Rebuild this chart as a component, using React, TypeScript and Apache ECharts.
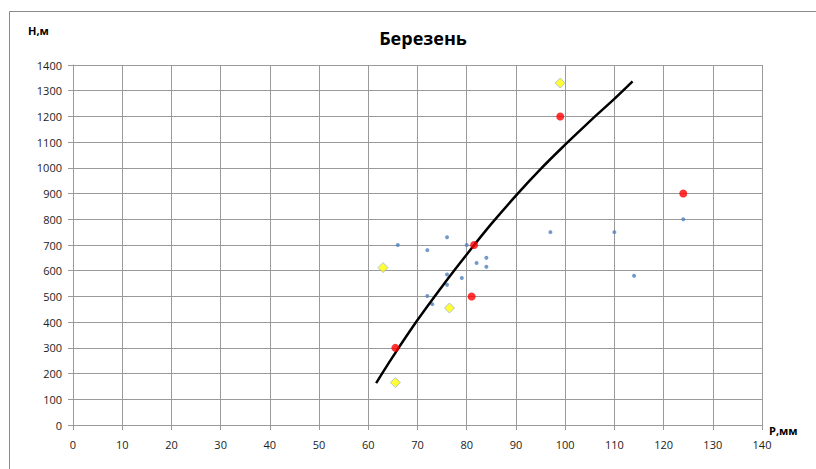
import React, { useEffect, useRef } from "react";
import * as echarts from "echarts";

const titleText = "Березень";
const yAxisName = "Н,м";
const xAxisName = "P,мм";

const blueP = [66, 76, 72, 80, 84, 82, 84, 76, 79, 76, 72, 73, 97, 110, 114, 124];
const blueH = [700, 730, 680, 700, 650, 630, 615, 585, 572, 545, 502, 470, 750, 750, 580, 800];

const redP = [65.5, 81, 81.5, 99, 124];
const redH = [300, 500, 700, 1200, 900];

const yellowP = [63, 76.5, 65.5, 99];
const yellowH = [612, 455, 165, 1330];

const trendP = [61.6, 65, 70, 75, 80, 85, 90, 95, 100, 105, 110, 113.7];
const trendH = [163, 266, 408, 539, 663, 782, 892, 995, 1090, 1181, 1268, 1336];

const zip = (a: number[], b: number[]) => a.map((v, i) => [v, b[i]]);

export default function App() {
  const ref = useRef<HTMLDivElement>(null);
  useEffect(() => {
    if (!ref.current) return;
    const chart = echarts.init(ref.current, null, { renderer: "svg" });
    const font = "'Open Sans', 'Noto Sans', sans-serif";
    const gridColor = "#9a9a9a";
    chart.setOption({
      animation: false,
      backgroundColor: "#ffffff",
      textStyle: { fontFamily: font },
      title: {
        text: titleText,
        left: 418,
        top: 24,
        textAlign: "center",
        textStyle: { fontFamily: font, fontSize: 18, fontWeight: "bold", color: "#000" },
      },
      graphic: [
        {
          type: "rect",
          shape: { x: 9.5, y: 11.5, width: 820, height: 470 },
          style: { fill: "none", stroke: "#8a8a8a", lineWidth: 1 },
          silent: true,
        },
        {
          type: "text",
          left: 28,
          top: 25,
          style: { text: yAxisName, fontFamily: font, fontSize: 11, fontWeight: "bold", fill: "#000" },
        },
        {
          type: "text",
          left: 769,
          top: 425,
          style: { text: xAxisName, fontFamily: font, fontSize: 11, fontWeight: "bold", fill: "#000" },
        },
      ],
      grid: { left: 73, right: 54, top: 65, bottom: 44, containLabel: false },
      xAxis: {
        type: "value",
        min: 0,
        max: 140,
        interval: 10,
        axisLine: { show: true, onZero: false, lineStyle: { color: gridColor } },
        axisTick: { show: true, length: 5, lineStyle: { color: gridColor } },
        axisLabel: { color: "#222", fontSize: 11, margin: 14, fontFamily: font },
        splitLine: { show: true, lineStyle: { color: gridColor, width: 1 } },
      },
      yAxis: {
        type: "value",
        min: 0,
        max: 1400,
        interval: 100,
        axisLine: { show: true, onZero: false, lineStyle: { color: gridColor } },
        axisTick: { show: true, length: 5, lineStyle: { color: gridColor } },
        axisLabel: {
          color: "#222",
          fontSize: 11,
          margin: 11,
          fontFamily: font,
          formatter: (v: number) => String(v),
        },
        splitLine: { show: true, lineStyle: { color: gridColor, width: 1 } },
      },
      series: [
        {
          type: "scatter",
          data: zip(blueP, blueH),
          symbol: "circle",
          symbolSize: 4,
          itemStyle: { color: "#4f81bd" },
        },
        {
          type: "line",
          data: zip(trendP, trendH),
          smooth: 0.4,
          showSymbol: false,
          symbol: "none",
          lineStyle: { color: "#000", width: 2.5 },
          z: 3,
        },
        {
          type: "scatter",
          data: zip(redP, redH),
          symbol: "circle",
          symbolSize: 8,
          itemStyle: { color: "#ff0000" },
          z: 4,
        },
        {
          type: "scatter",
          data: zip(yellowP, yellowH),
          symbol: "diamond",
          symbolSize: [10, 10],
          itemStyle: { color: "#ffff00", borderColor: "#9fb6cd", borderWidth: 1 },
          z: 4,
        },
      ],
    });
    return () => chart.dispose();
  }, []);
  return (
    <div
      ref={ref}
      style={{ position: "fixed", left: 0, top: 0, width: 816, height: 469, background: "#fff" }}
    />
  );
}
